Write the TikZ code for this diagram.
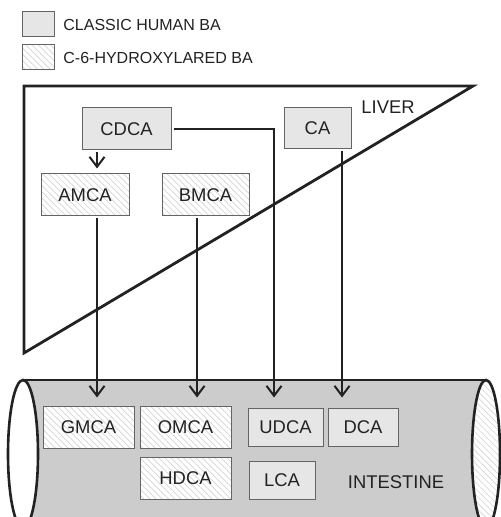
\documentclass[tikz,border=0pt]{standalone}
\usepackage{fontspec}
\setmainfont{Liberation Sans}
\usetikzlibrary{arrows.meta,patterns.meta}
\definecolor{classicclr}{RGB}{230,230,230}
\definecolor{gutclr}{RGB}{204,204,204}
\definecolor{edgeclr}{RGB}{100,100,100}
\definecolor{hatchclr}{RGB}{212,212,212}
\definecolor{inkclr}{RGB}{34,34,34}
\tikzset{
  bafont/.style={font=\fontsize{9.2}{11}\selectfont, text=inkclr},
  classicbox/.style={draw=edgeclr, line width=0.5pt, fill=classicclr, inner sep=0pt, bafont},
  hydroxbox/.style={draw=edgeclr, line width=0.5pt, inner sep=0pt, preaction={fill=white},
    pattern={Lines[angle=-45,distance=2.2pt,line width=0.35pt]}, pattern color=hatchclr, bafont},
  flow/.style={line width=1pt, draw=inkclr, -{Straight Barb[length=5pt,width=7.5pt,line width=1pt]},
    shorten <=1pt, shorten >=5pt},
}

\begin{document}
\begin{tikzpicture}[x=0.5pt, y=-0.5pt]
  \useasboundingbox (0,0) rectangle (501,517);
  \clip (0,0) rectangle (501,517);
  \node[classicbox, minimum width=16pt, minimum height=12.5pt] (legclassic) at (38,24.5) {};
  \node[anchor=west, inner sep=0pt, font=\fontsize{8}{10}\selectfont, text=inkclr]
    (legclassictxt) at (63,25) {CLASSIC HUMAN BA};
  \node[hydroxbox, minimum width=16pt, minimum height=12.5pt] (leghydrox) at (38,57.5) {};
  \node[anchor=west, inner sep=0pt, font=\fontsize{8}{10}\selectfont, text=inkclr]
    (leghydroxtxt) at (63,58) {C-6-HYDROXYLARED BA};
  \draw[line width=1.4pt, draw=inkclr] (24,86) -- (473,86) -- (24,353) -- cycle;
  \node[bafont, inner sep=0pt] (liver) at (388,107) {LIVER};
  \fill[gutclr] (23,380) rectangle (486,530);
  \draw[line width=1pt, draw=inkclr] (23,380) -- (486,380);
  \draw[line width=1.3pt, draw=inkclr, fill=white] (23,454) ellipse [x radius=7.5pt, y radius=37pt];
  \draw[line width=1.3pt, draw=inkclr, preaction={fill=white},
        pattern={Lines[angle=-45,distance=2.2pt,line width=0.3pt]}, pattern color=hatchclr]
    (486,454) ellipse [x radius=7pt, y radius=37pt];
  \node[bafont, inner sep=0pt] (intestine) at (396,482) {INTESTINE};
  \node[classicbox, minimum width=44.5pt, minimum height=21pt] (cdca) at (126.5,129) {CDCA};
  \node[classicbox, minimum width=33.5pt, minimum height=20.5pt] (ca) at (317.5,128.5) {CA};
  \node[hydroxbox, minimum width=44pt, minimum height=21pt] (amca) at (85,195) {AMCA};
  \node[hydroxbox, minimum width=43.5pt, minimum height=21pt] (bmca) at (205.5,195) {BMCA};
  \node[hydroxbox, minimum width=45.5pt, minimum height=21pt] (gmca) at (88.5,427) {GMCA};
  \node[hydroxbox, minimum width=45.5pt, minimum height=21pt] (omca) at (185.5,427) {OMCA};
  \node[classicbox, minimum width=37.5pt, minimum height=19pt] (udca) at (285.5,427) {UDCA};
  \node[classicbox, minimum width=35pt, minimum height=19pt] (dca) at (363,427) {DCA};
  \node[hydroxbox, minimum width=45.5pt, minimum height=21pt] (hdca) at (185.5,478) {HDCA};
  \node[classicbox, minimum width=33pt, minimum height=19pt] (lca) at (282,480) {LCA};
  \coordinate (laneA) at (97,0);
  \coordinate (laneB) at (197,0);
  \coordinate (laneU) at (274,0);
  \coordinate (laneD) at (342,0);
  \draw[flow, shorten >=2.5pt] (cdca.south -| laneA) -- (amca.north -| laneA);
  \draw[flow, shorten >=4pt] (amca.south -| laneA) -- (gmca.north -| laneA);
  \draw[flow, shorten >=4pt] (bmca.south -| laneB) -- (omca.north -| laneB);
  \draw[flow] (cdca.east) -| (udca.north -| laneU);
  \draw[flow] (ca.south -| laneD) -- (dca.north -| laneD);
\end{tikzpicture}
\end{document}
